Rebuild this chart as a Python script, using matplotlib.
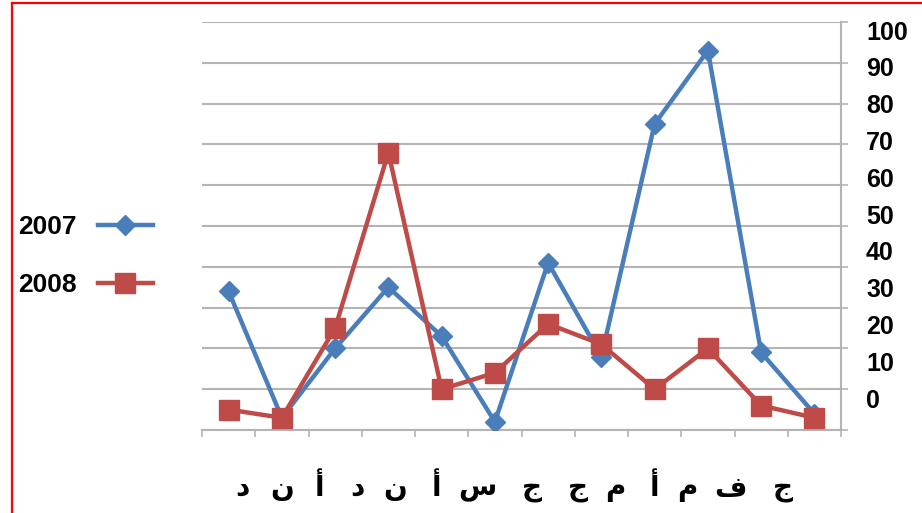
import numpy as np
import matplotlib.pyplot as plt
from matplotlib.lines import Line2D

# values (12 points per series)
values_2007 = [34, 3, 20, 35, 23, 2, 41, 18, 75, 93, 19, 4]
values_2008 = [5, 3, 25, 68, 10, 14, 26, 21, 10, 20, 6, 3]

# month initials as they appear under the axis, right to left
month_letters = ["ج", "ف", "م", "أ", "م", "ج", "ج", "س", "أ", "ن", "د", "أ", "ن", "د"]
# where each letter sits, in pixels from the left edge (right to left)
letter_px = [783, 730, 687, 655, 615, 578, 532, 477, 437, 395, 357, 320, 282, 242]

y_labels = [str(v) for v in range(0, 101, 10)]

BLUE = "#4a7ebb"
RED = "#be4b48"
GRID = "#b4b4b4"

W, H = 922, 513
fig = plt.figure(figsize=(W / 100, H / 100), dpi=100)
ax_l, ax_r, ax_t, ax_b = 202, 841, 22, 430
ax = fig.add_axes([ax_l / W, 1 - ax_b / H, (ax_r - ax_l) / W, (ax_b - ax_t) / H])

x = np.arange(len(values_2007))
ax.plot(x, values_2007, color=BLUE, lw=3.2, marker="D", ms=10, zorder=3)
ax.plot(x, values_2008, color=RED, lw=3.2, marker="s", ms=14, zorder=4)

ax.set_xlim(-0.5, len(x) - 0.5)
ax.set_ylim(0, 100)

# gridlines every 10
ax.set_yticks(np.arange(0, 101, 10))
ax.yaxis.grid(True, color=GRID, lw=1.5)
ax.set_axisbelow(True)
ax.yaxis.tick_right()
ax.tick_params(axis="y", which="major", length=5, color=GRID, width=1.2,
               labelright=False)

# the value labels in the picture do not sit on the gridlines
ax.set_yticks(np.linspace(7.8, 98, len(y_labels)), minor=True)
ax.set_yticklabels(y_labels, minor=True)
ax.tick_params(axis="y", which="minor", length=0, pad=18, labelsize=18,
               labelright=True, labelleft=False)
for t in ax.get_yticklabels(minor=True):
    t.set_fontfamily("Liberation Sans")
    t.set_fontweight("bold")

ax.set_xticks(np.arange(-0.5, len(x), 1))
ax.set_xticklabels([])
ax.tick_params(axis="x", length=5, color=GRID, width=1.2)

for side in ["left", "top"]:
    ax.spines[side].set_visible(False)
for side in ["bottom", "right"]:
    ax.spines[side].set_color(GRID)
    ax.spines[side].set_linewidth(1.5)

for letter, px in zip(month_letters, letter_px):
    fig.text(px / W, 1 - 488 / H, letter, ha="center", va="center",
             fontsize=20, fontweight="bold", family="DejaVu Sans")

handles = [
    Line2D([], [], color=BLUE, lw=3.2, marker="D", ms=10, label="2007"),
    Line2D([], [], color=RED, lw=3.2, marker="s", ms=14, label="2008"),
]
fig.legend(handles=handles, loc="center left", bbox_to_anchor=(18 / W, 1 - 256 / H),
           frameon=False, markerfirst=False, handlelength=2.1, handletextpad=0.8,
           labelspacing=1.3, borderpad=0, borderaxespad=0,
           prop={"family": "Liberation Sans", "weight": "bold", "size": 19})

# red frame around the picture
fig.add_artist(Line2D([12 / W, 12 / W], [0, 1 - 3 / H], color="red", lw=1.6))
fig.add_artist(Line2D([12 / W, 1], [1 - 3 / H, 1 - 3 / H], color="red", lw=1.6))

fig.savefig("out.png", dpi=100)
